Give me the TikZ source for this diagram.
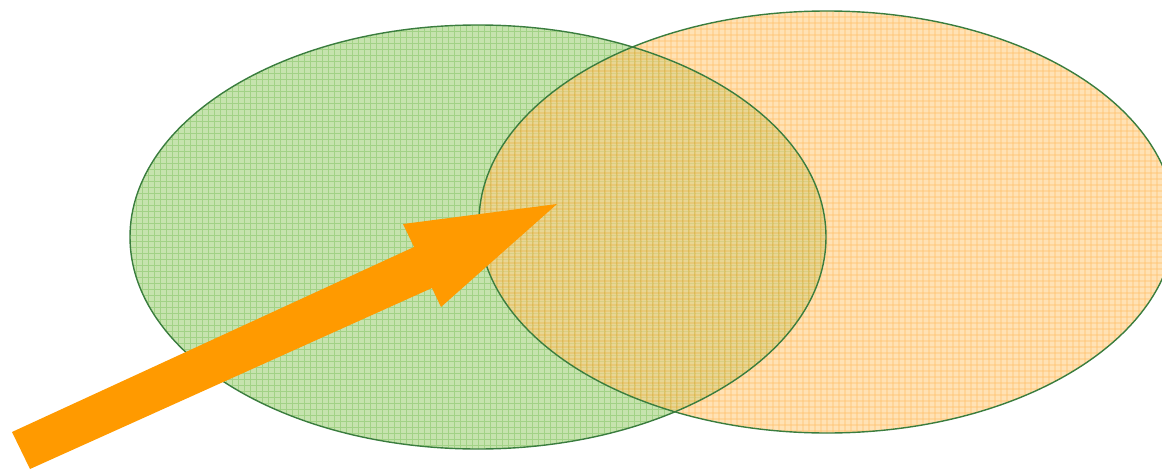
\documentclass[tikz,border=0pt]{standalone}
\definecolor{gfill}{HTML}{C6E3AE}
\definecolor{ggrid}{HTML}{A2D286}
\definecolor{ofill}{HTML}{FFCE84}
\definecolor{ogrid}{HTML}{FF9400}
\definecolor{edge}{HTML}{3A7D3E}
\definecolor{arrowc}{HTML}{FF9A00}
\tikzset{
  ellipseedge/.style={draw=edge, line width=1.4pt},
  gridg/.style={ggrid, line width=0.8pt},
  grido/.style={ogrid, line width=0.7pt},
  bigarrow/.style={fill=arrowc, draw=none}
}
\begin{document}
\begin{tikzpicture}[x=1pt,y=-1pt]
\useasboundingbox (0,0) rectangle (1162,471);
% green ellipse
\begin{scope}
  \clip (478,237) ellipse [x radius=348, y radius=212];
  \fill[gfill] (130,25) rectangle (826,449);
  \foreach \x in {130,136,...,826} \draw[gridg] (\x,20) -- (\x,455);
  \foreach \y in {25,31,...,449} \draw[gridg] (125,\y) -- (830,\y);
\end{scope}
% orange ellipse (semi transparent)
\begin{scope}[transparency group, opacity=0.6]
  \clip (827,222) ellipse [x radius=348, y radius=211];
  \fill[ofill] (479,11) rectangle (1175,433);
  \foreach \x in {479,485,...,1175} \draw[grido] (\x,5) -- (\x,440);
  \foreach \y in {11,17,...,433} \draw[grido] (475,\y) -- (1180,\y);
\end{scope}
\draw[ellipseedge] (478,237) ellipse [x radius=348, y radius=212];
\draw[ellipseedge] (827,222) ellipse [x radius=348, y radius=211];
% arrow
\fill[bigarrow] (12,432) -- (414,247) -- (403,224) -- (557,204) -- (441,307) -- (432,288) -- (30,469) -- cycle;
\end{tikzpicture}
\end{document}
